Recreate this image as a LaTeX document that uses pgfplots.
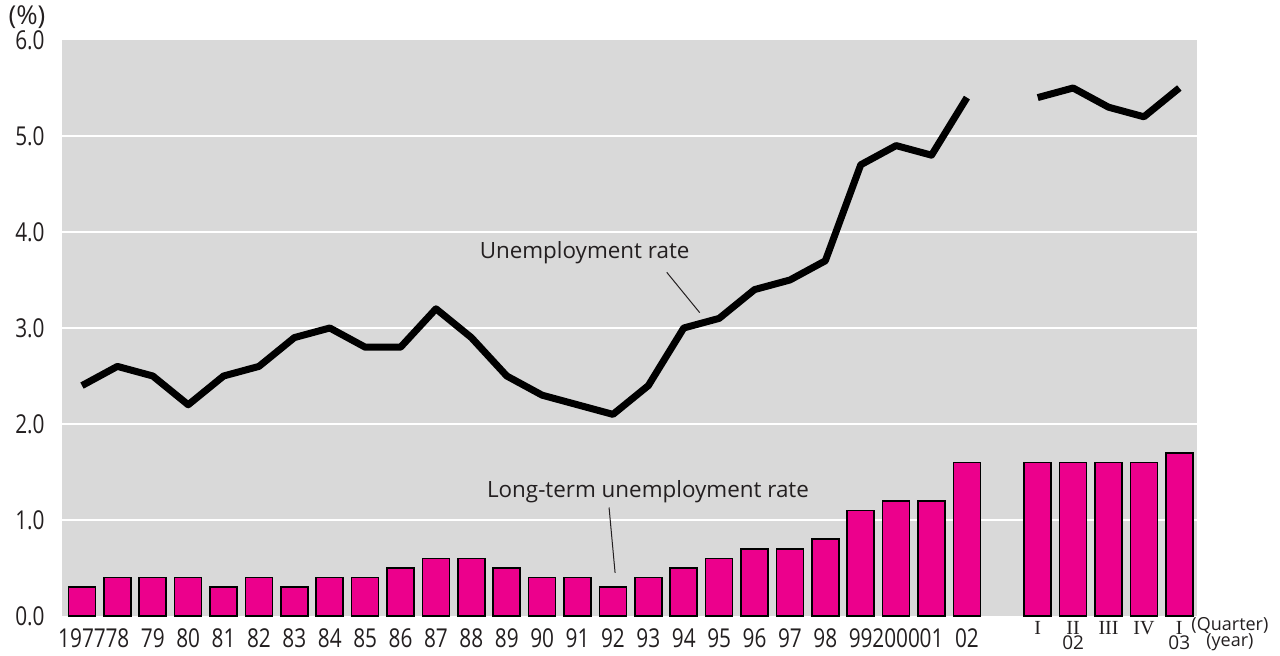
\documentclass[border=0pt]{standalone}
\usepackage{fontspec}
\setmainfont{Open Sans}
\newfontfamily\romanfont{Liberation Serif}
\newfontfamily\condfont[FakeStretch=0.8]{Open Sans}
\usepackage{pgfplots}
\pgfplotsset{compat=1.18}
\definecolor{bg}{RGB}{217,217,217}
\definecolor{mag}{RGB}{236,0,140}
\definecolor{txt}{RGB}{35,31,32}

\begin{document}
\begin{tikzpicture}[x=1pt,y=1pt]
\path[use as bounding box] (-31,-20) rectangle (609,308);
\begin{axis}[
  at={(0,0)}, anchor=south west,
  scale only axis, width=567.5pt, height=288pt,
  xmin=-0.565, xmax=31.5, ymin=0, ymax=6,
  clip=false,
  axis background/.style={fill=bg},
  axis line style={draw=none},
  major tick length=0pt,
  ytick={0,1,2,3,4,5,6},
  extra y ticks={1,2,3,4,5},
  extra y tick labels={},
  extra y tick style={grid=major, major grid style={white, line width=1.3pt}},
  /pgf/number format/fixed,
  /pgf/number format/fixed zerofill,
  /pgf/number format/precision=1,
  /pgf/number format/assume math mode=true,
  yticklabel style={anchor=east, inner sep=0pt, xshift=-8.5pt, font=\condfont\fontsize{13}{15}\selectfont, text=txt},
  xtick={0,1,...,25},
  xticklabels={1977,78,79,80,81,82,83,84,85,86,87,88,89,90,91,92,93,94,95,96,97,98,99,2000,01,02},
  xticklabel style={anchor=center, inner sep=0pt, yshift=-11pt, font=\condfont\fontsize{13}{15}\selectfont, text=txt},
  extra x ticks={27,28,29,30,31},
  extra x tick labels={I,II,III,IV,I},
  extra x tick style={xticklabel style={yshift=5pt, font=\romanfont\fontsize{10}{12}\selectfont}},
]
\addplot[ybar, bar width=13.5pt, fill=mag, draw=black, line width=0.8pt] coordinates {
(0,0.3) (1,0.4) (2,0.4) (3,0.4) (4,0.3) (5,0.4) (6,0.3) (7,0.4) (8,0.4) (9,0.5)
(10,0.6) (11,0.6) (12,0.5) (13,0.4) (14,0.4) (15,0.3) (16,0.4) (17,0.5) (18,0.6) (19,0.7)
(20,0.7) (21,0.8) (22,1.1) (23,1.2) (24,1.2) (25,1.6)
(27,1.6) (28,1.6) (29,1.6) (30,1.6) (31,1.7)};
\addplot[black, line width=3.5pt, line join=round, no marks] coordinates {
(0,2.4) (1,2.6) (2,2.5) (3,2.2) (4,2.5) (5,2.6) (6,2.9) (7,3.0) (8,2.8) (9,2.8)
(10,3.2) (11,2.9) (12,2.5) (13,2.3) (14,2.2) (15,2.1) (16,2.4) (17,3.0) (18,3.1) (19,3.4)
(20,3.5) (21,3.7) (22,4.7) (23,4.9) (24,4.8) (25,5.4)};
\addplot[black, line width=3.5pt, line join=round, no marks] coordinates {
(27,5.4) (28,5.5) (29,5.3) (30,5.2) (31,5.5)};
\node[font=\fontsize{11.2}{13}\selectfont, text=txt] at (axis cs:14.2,3.78) {Unemployment rate};
\draw[txt, line width=0.5pt] (axis cs:16.52,3.58) -- (axis cs:17.45,3.16);
\node[font=\fontsize{11.2}{13}\selectfont, text=txt] at (axis cs:15.99,1.30) {Long-term unemployment rate};
\draw[txt, line width=0.5pt] (axis cs:14.89,1.13) -- (axis cs:15.06,0.45);
\node[font=\fontsize{13}{15}\selectfont, text=txt] at (rel axis cs:0,1) [xshift=-17.5pt, yshift=11.5pt] {(\%)};
\node[font=\fontsize{9.5}{11}\selectfont, text=txt, inner sep=0pt] at (axis cs:28,0) [yshift=-13.3pt] {02};
\node[font=\fontsize{9.5}{11}\selectfont, text=txt, inner sep=0pt] at (axis cs:31,0) [yshift=-13.3pt] {03};
\node[font=\fontsize{9}{10}\selectfont, text=txt] at (axis cs:32.43,0) [yshift=-5pt] {(Quarter)};
\node[font=\fontsize{9}{10}\selectfont, text=txt] at (axis cs:32.43,0) [yshift=-13pt] {(year)};
\end{axis}
\end{tikzpicture}
\end{document}
